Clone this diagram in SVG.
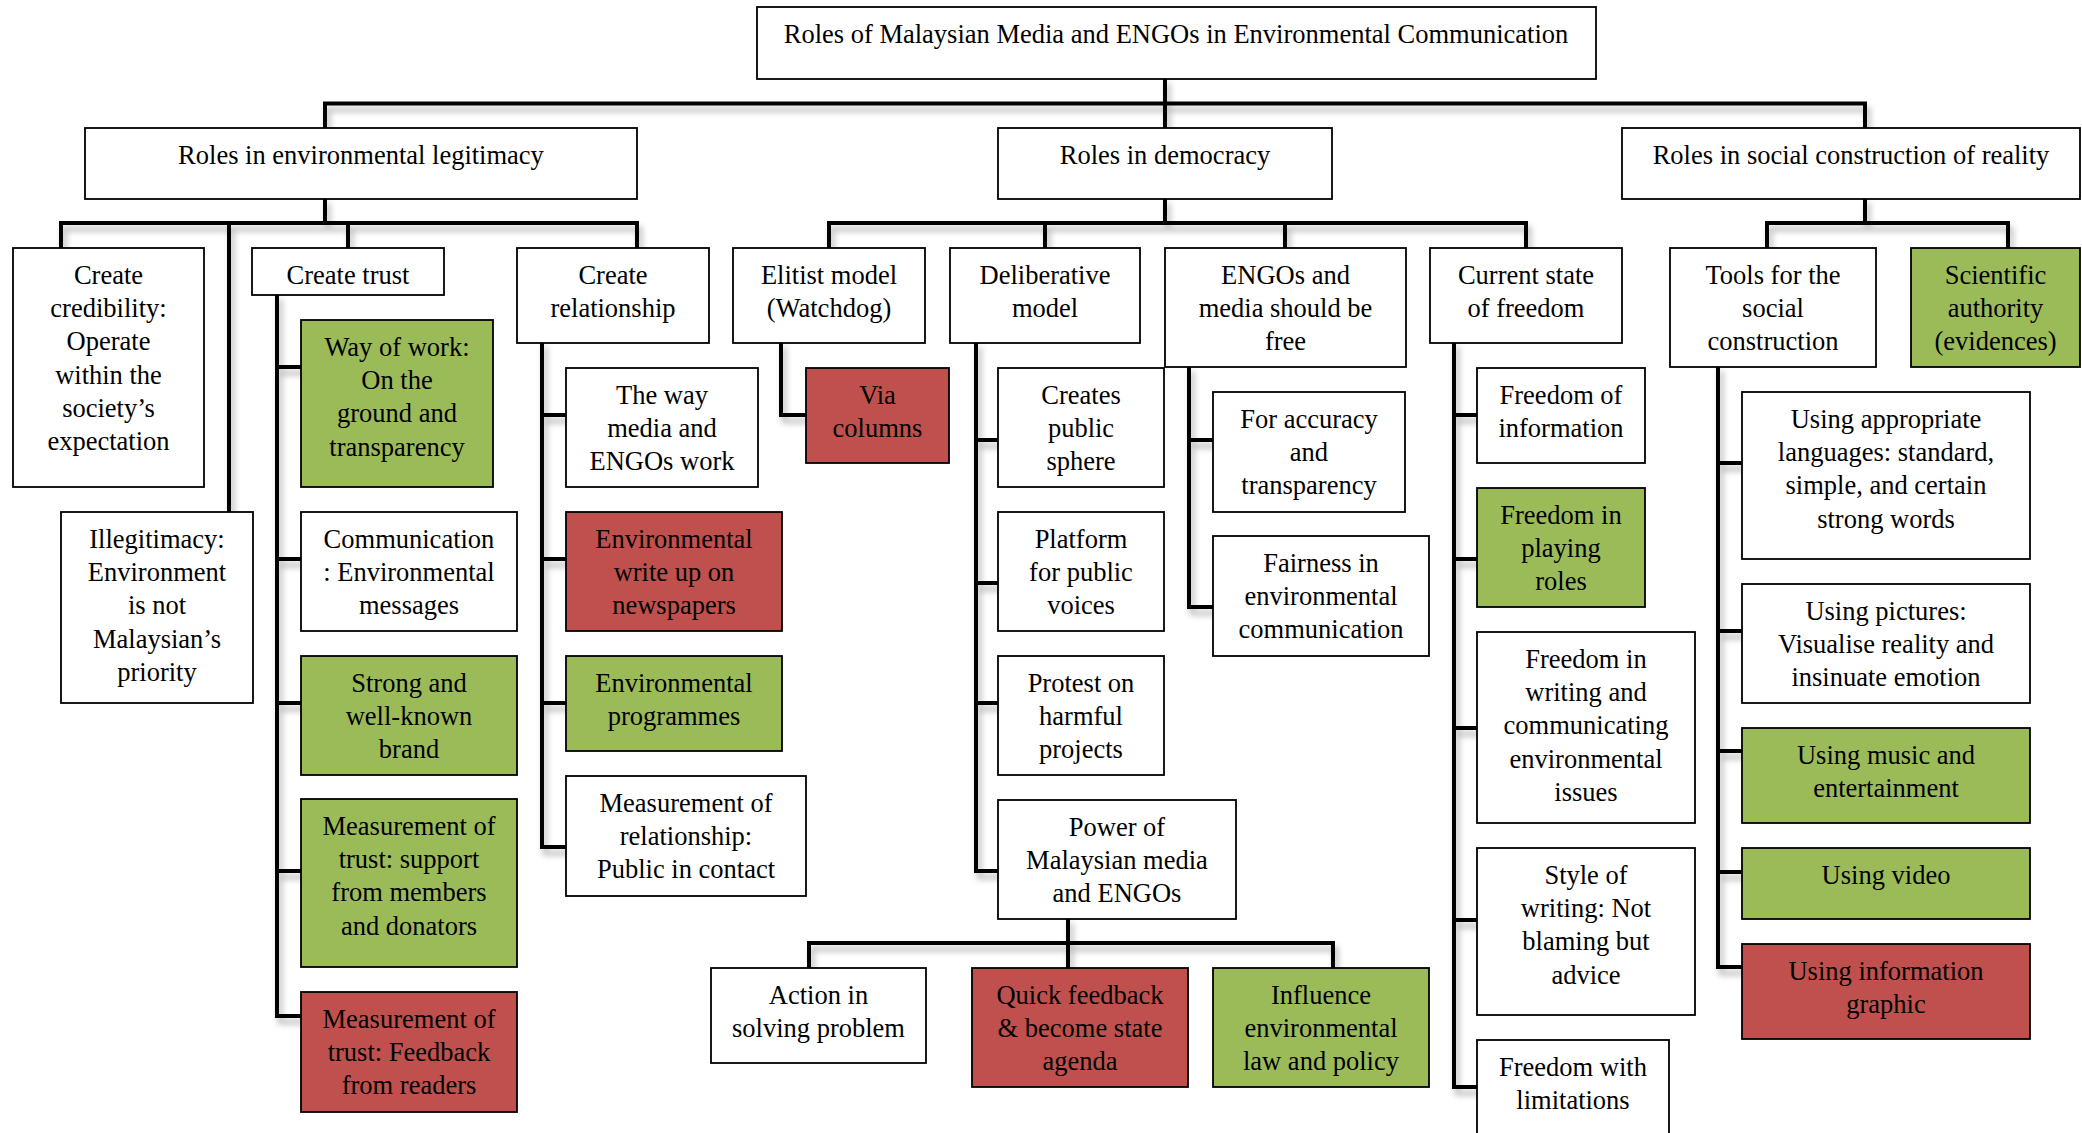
<svg xmlns="http://www.w3.org/2000/svg" width="2082" height="1133" viewBox="0 0 2082 1133">
  <defs>
    <filter id="shadow" filterUnits="userSpaceOnUse" x="0" y="0" width="2082" height="1133">
      <feGaussianBlur in="SourceAlpha" stdDeviation="3"/>
      <feOffset dx="3" dy="6" result="blur"/>
      <feFlood flood-color="#000" flood-opacity="0.3"/>
      <feComposite in2="blur" operator="in"/>
      <feMerge>
        <feMergeNode/>
        <feMergeNode in="SourceGraphic"/>
      </feMerge>
    </filter>
  </defs>
  <style>
    .box { fill: #ffffff; stroke: #000000; stroke-width: 1.8; }
    .green { fill: #9BBB59; }
    .red { fill: #C0504D; }
    .conn { fill: none; stroke: #000000; stroke-width: 4; stroke-linejoin: miter; stroke-linecap: square; }
    text { font-family: "Liberation Serif", "Times New Roman", serif; font-size: 26.5px; text-anchor: middle; fill: #000000; }
  </style>
  <rect width="2082" height="1133" fill="#ffffff"/>

  <!-- connectors -->
  <g id="connectors" class="conn" filter="url(#shadow)">
    <path d="M1165 79 V128"/>
    <path d="M325 128 V103.5 H1865 V128"/>
    <!-- legitimacy branch -->
    <path d="M325 199 V223"/>
    <path d="M61 248 V223 H637 V248"/>
    <path d="M229 223 V512"/>
    <path d="M348 223 V248"/>
    <!-- democracy branch -->
    <path d="M1165 199 V223"/>
    <path d="M829 248 V223 H1526 V248"/>
    <path d="M1045 223 V248"/>
    <path d="M1285 223 V248"/>
    <!-- social construction branch -->
    <path d="M1865 199 V223"/>
    <path d="M1767 248 V223 H2008 V248"/>
    <!-- create trust -->
    <path d="M277 295 V1016 H301"/>
    <path d="M277 367 H301 M277 559 H301 M277 703 H301 M277 871 H301"/>
    <!-- create relationship -->
    <path d="M542 343 V847 H566"/>
    <path d="M542 415 H566 M542 559 H566 M542 703 H566"/>
    <!-- elitist model -->
    <path d="M781 343 V415 H806"/>
    <!-- deliberative model -->
    <path d="M976 343 V871 H998"/>
    <path d="M976 440 H998 M976 583 H998 M976 703 H998"/>
    <!-- power of media -->
    <path d="M1068 919 V968"/>
    <path d="M809 968 V943 H1333 V968"/>
    <!-- should be free -->
    <path d="M1189 367 V607 H1213"/>
    <path d="M1189 440 H1213"/>
    <!-- current state of freedom -->
    <path d="M1454 343 V1087 H1477"/>
    <path d="M1454 415 H1477 M1454 559 H1477 M1454 728 H1477 M1454 920 H1477"/>
    <!-- tools -->
    <path d="M1718 367 V967 H1742"/>
    <path d="M1718 463 H1742 M1718 631 H1742 M1718 751 H1742 M1718 872 H1742"/>
  </g>

  <!-- root -->
  <g id="n-root">
    <rect class="box" x="757" y="7" width="839" height="72"/>
    <text x="1176" y="43">Roles of Malaysian Media and ENGOs in Environmental Communication</text>
  </g>

  <!-- level 1 -->
  <g id="n-legitimacy">
    <rect class="box" x="85" y="128" width="552" height="71"/>
    <text x="361" y="163.6">Roles in environmental legitimacy</text>
  </g>
  <g id="n-democracy">
    <rect class="box" x="998" y="128" width="334" height="71"/>
    <text x="1165" y="163.6">Roles in democracy</text>
  </g>
  <g id="n-social">
    <rect class="box" x="1622" y="128" width="458" height="71"/>
    <text x="1851" y="163.6">Roles in social construction of reality</text>
  </g>

  <!-- legitimacy children -->
  <g id="n-credibility">
    <rect class="box" x="13" y="248" width="191" height="239"/>
    <text x="108.5" y="283.6">Create</text>
    <text x="108.5" y="316.9">credibility:</text>
    <text x="108.5" y="350.2">Operate</text>
    <text x="108.5" y="383.5">within the</text>
    <text x="108.5" y="416.8">society’s</text>
    <text x="108.5" y="450.1">expectation</text>
  </g>
  <g id="n-illegitimacy">
    <rect class="box" x="61" y="512" width="192" height="191"/>
    <text x="157" y="547.6">Illegitimacy:</text>
    <text x="157" y="580.9">Environment</text>
    <text x="157" y="614.2">is not</text>
    <text x="157" y="647.5">Malaysian’s</text>
    <text x="157" y="680.8">priority</text>
  </g>
  <g id="n-trust">
    <rect class="box" x="252" y="248" width="192" height="47"/>
    <text x="348" y="283.6">Create trust</text>
  </g>
  <g id="n-relationship">
    <rect class="box" x="517" y="248" width="192" height="95"/>
    <text x="613" y="283.6">Create</text>
    <text x="613" y="316.9">relationship</text>
  </g>

  <!-- democracy children -->
  <g id="n-elitist">
    <rect class="box" x="733" y="248" width="192" height="95"/>
    <text x="829" y="283.6">Elitist model</text>
    <text x="829" y="316.9">(Watchdog)</text>
  </g>
  <g id="n-deliberative">
    <rect class="box" x="950" y="248" width="190" height="95"/>
    <text x="1045" y="283.6">Deliberative</text>
    <text x="1045" y="316.9">model</text>
  </g>
  <g id="n-free">
    <rect class="box" x="1165" y="248" width="241" height="119"/>
    <text x="1285.5" y="283.6">ENGOs and</text>
    <text x="1285.5" y="316.9">media should be</text>
    <text x="1285.5" y="350.2">free</text>
  </g>
  <g id="n-current">
    <rect class="box" x="1430" y="248" width="192" height="95"/>
    <text x="1526" y="283.6">Current state</text>
    <text x="1526" y="316.9">of freedom</text>
  </g>

  <!-- social construction children -->
  <g id="n-tools">
    <rect class="box" x="1670" y="248" width="206" height="119"/>
    <text x="1773" y="283.6">Tools for the</text>
    <text x="1773" y="316.9">social</text>
    <text x="1773" y="350.2">construction</text>
  </g>
  <g id="n-scientific">
    <rect class="box green" x="1911" y="248" width="169" height="119"/>
    <text x="1995.5" y="283.6">Scientific</text>
    <text x="1995.5" y="316.9">authority</text>
    <text x="1995.5" y="350.2">(evidences)</text>
  </g>

  <!-- create trust children -->
  <g id="n-way-of-work">
    <rect class="box green" x="301" y="320" width="192" height="167"/>
    <text x="397" y="355.6">Way of work:</text>
    <text x="397" y="388.9">On the</text>
    <text x="397" y="422.2">ground and</text>
    <text x="397" y="455.5">transparency</text>
  </g>
  <g id="n-communication">
    <rect class="box" x="301" y="512" width="216" height="119"/>
    <text x="409" y="547.6">Communication</text>
    <text x="409" y="580.9">: Environmental</text>
    <text x="409" y="614.2">messages</text>
  </g>
  <g id="n-brand">
    <rect class="box green" x="301" y="656" width="216" height="119"/>
    <text x="409" y="691.6">Strong and</text>
    <text x="409" y="724.9">well-known</text>
    <text x="409" y="758.2">brand</text>
  </g>
  <g id="n-trust-support">
    <rect class="box green" x="301" y="799" width="216" height="168"/>
    <text x="409" y="834.6">Measurement of</text>
    <text x="409" y="867.9">trust: support</text>
    <text x="409" y="901.2">from members</text>
    <text x="409" y="934.5">and donators</text>
  </g>
  <g id="n-trust-feedback">
    <rect class="box red" x="301" y="992" width="216" height="120"/>
    <text x="409" y="1027.6">Measurement of</text>
    <text x="409" y="1060.9">trust: Feedback</text>
    <text x="409" y="1094.2">from readers</text>
  </g>

  <!-- create relationship children -->
  <g id="n-the-way">
    <rect class="box" x="566" y="368" width="192" height="119"/>
    <text x="662" y="403.6">The way</text>
    <text x="662" y="436.9">media and</text>
    <text x="662" y="470.2">ENGOs work</text>
  </g>
  <g id="n-write-up">
    <rect class="box red" x="566" y="512" width="216" height="119"/>
    <text x="674" y="547.6">Environmental</text>
    <text x="674" y="580.9">write up on</text>
    <text x="674" y="614.2">newspapers</text>
  </g>
  <g id="n-programmes">
    <rect class="box green" x="566" y="656" width="216" height="95"/>
    <text x="674" y="691.6">Environmental</text>
    <text x="674" y="724.9">programmes</text>
  </g>
  <g id="n-relationship-measure">
    <rect class="box" x="566" y="776" width="240" height="120"/>
    <text x="686" y="811.6">Measurement of</text>
    <text x="686" y="844.9">relationship:</text>
    <text x="686" y="878.2">Public in contact</text>
  </g>

  <!-- elitist model child -->
  <g id="n-columns">
    <rect class="box red" x="806" y="368" width="143" height="95"/>
    <text x="877.5" y="403.6">Via</text>
    <text x="877.5" y="436.9">columns</text>
  </g>

  <!-- deliberative model children -->
  <g id="n-public-sphere">
    <rect class="box" x="998" y="368" width="166" height="119"/>
    <text x="1081" y="403.6">Creates</text>
    <text x="1081" y="436.9">public</text>
    <text x="1081" y="470.2">sphere</text>
  </g>
  <g id="n-platform">
    <rect class="box" x="998" y="512" width="166" height="119"/>
    <text x="1081" y="547.6">Platform</text>
    <text x="1081" y="580.9">for public</text>
    <text x="1081" y="614.2">voices</text>
  </g>
  <g id="n-protest">
    <rect class="box" x="998" y="656" width="166" height="119"/>
    <text x="1081" y="691.6">Protest on</text>
    <text x="1081" y="724.9">harmful</text>
    <text x="1081" y="758.2">projects</text>
  </g>
  <g id="n-power">
    <rect class="box" x="998" y="800" width="238" height="119"/>
    <text x="1117" y="835.6">Power of</text>
    <text x="1117" y="868.9">Malaysian media</text>
    <text x="1117" y="902.2">and ENGOs</text>
  </g>

  <!-- power children -->
  <g id="n-action">
    <rect class="box" x="711" y="968" width="215" height="95"/>
    <text x="818.5" y="1003.6">Action in</text>
    <text x="818.5" y="1036.9">solving problem</text>
  </g>
  <g id="n-quick-feedback">
    <rect class="box red" x="972" y="968" width="216" height="119"/>
    <text x="1080" y="1003.6">Quick feedback</text>
    <text x="1080" y="1036.9">&amp; become state</text>
    <text x="1080" y="1070.2">agenda</text>
  </g>
  <g id="n-influence">
    <rect class="box green" x="1213" y="968" width="216" height="119"/>
    <text x="1321" y="1003.6">Influence</text>
    <text x="1321" y="1036.9">environmental</text>
    <text x="1321" y="1070.2">law and policy</text>
  </g>

  <!-- should be free children -->
  <g id="n-accuracy">
    <rect class="box" x="1213" y="392" width="192" height="120"/>
    <text x="1309" y="427.6">For accuracy</text>
    <text x="1309" y="460.9">and</text>
    <text x="1309" y="494.2">transparency</text>
  </g>
  <g id="n-fairness">
    <rect class="box" x="1213" y="536" width="216" height="120"/>
    <text x="1321" y="571.6">Fairness in</text>
    <text x="1321" y="604.9">environmental</text>
    <text x="1321" y="638.2">communication</text>
  </g>

  <!-- current state of freedom children -->
  <g id="n-information">
    <rect class="box" x="1477" y="368" width="168" height="95"/>
    <text x="1561" y="403.6">Freedom of</text>
    <text x="1561" y="436.9">information</text>
  </g>
  <g id="n-playing-roles">
    <rect class="box green" x="1477" y="488" width="168" height="119"/>
    <text x="1561" y="523.6">Freedom in</text>
    <text x="1561" y="556.9">playing</text>
    <text x="1561" y="590.2">roles</text>
  </g>
  <g id="n-writing">
    <rect class="box" x="1477" y="632" width="218" height="191"/>
    <text x="1586" y="667.6">Freedom in</text>
    <text x="1586" y="700.9">writing and</text>
    <text x="1586" y="734.2">communicating</text>
    <text x="1586" y="767.5">environmental</text>
    <text x="1586" y="800.8">issues</text>
  </g>
  <g id="n-style">
    <rect class="box" x="1477" y="848" width="218" height="167"/>
    <text x="1586" y="883.6">Style of</text>
    <text x="1586" y="916.9">writing: Not</text>
    <text x="1586" y="950.2">blaming but</text>
    <text x="1586" y="983.5">advice</text>
  </g>
  <g id="n-limitations">
    <rect class="box" x="1477" y="1040" width="192" height="110"/>
    <text x="1573" y="1075.6">Freedom with</text>
    <text x="1573" y="1108.9">limitations</text>
  </g>

  <!-- tools children -->
  <g id="n-languages">
    <rect class="box" x="1742" y="392" width="288" height="167"/>
    <text x="1886" y="427.6">Using appropriate</text>
    <text x="1886" y="460.9">languages: standard,</text>
    <text x="1886" y="494.2">simple, and certain</text>
    <text x="1886" y="527.5">strong words</text>
  </g>
  <g id="n-pictures">
    <rect class="box" x="1742" y="584" width="288" height="119"/>
    <text x="1886" y="619.6">Using pictures:</text>
    <text x="1886" y="652.9">Visualise reality and</text>
    <text x="1886" y="686.2">insinuate emotion</text>
  </g>
  <g id="n-music">
    <rect class="box green" x="1742" y="728" width="288" height="95"/>
    <text x="1886" y="763.6">Using music and</text>
    <text x="1886" y="796.9">entertainment</text>
  </g>
  <g id="n-video">
    <rect class="box green" x="1742" y="848" width="288" height="71"/>
    <text x="1886" y="883.6">Using video</text>
  </g>
  <g id="n-infographic">
    <rect class="box red" x="1742" y="944" width="288" height="95"/>
    <text x="1886" y="979.6">Using information</text>
    <text x="1886" y="1012.9">graphic</text>
  </g>
</svg>
